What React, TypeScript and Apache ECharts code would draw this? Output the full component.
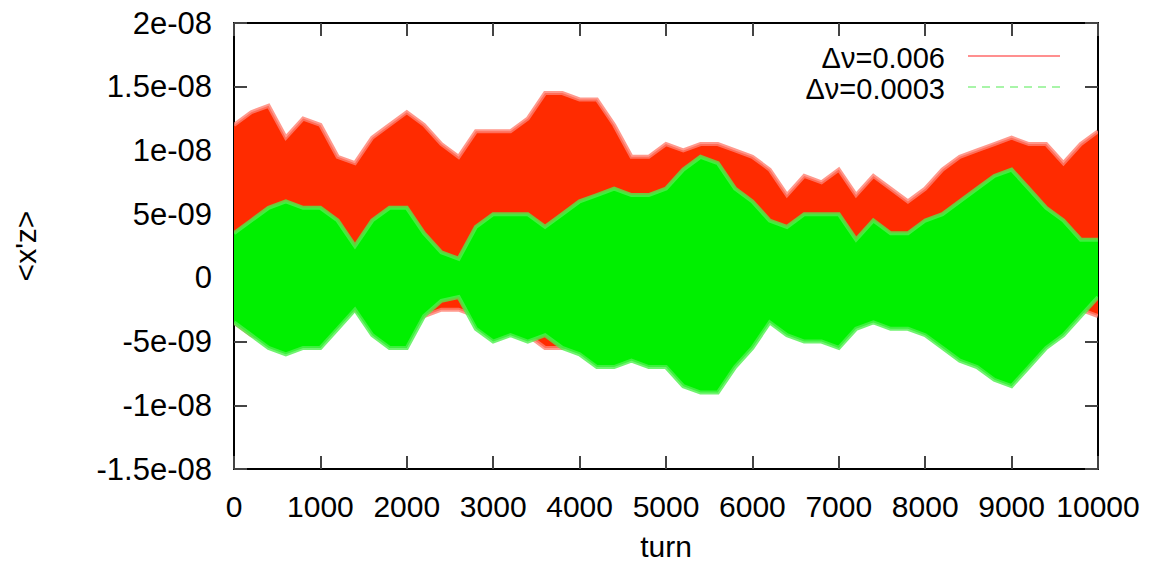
import React, { useEffect, useRef } from "react";
import * as echarts from "echarts";

// turns (x positions of the sampled envelope)
const turns = [
  0, 200, 400, 600, 800, 1000, 1200, 1400, 1600, 1800, 2000, 2200, 2400, 2600, 2800, 3000, 3200, 3400, 3600, 3800,
  4000, 4200, 4400, 4600, 4800, 5000, 5200, 5400, 5600, 5800, 6000, 6200, 6400, 6600, 6800, 7000, 7200, 7400, 7600,
  7800, 8000, 8200, 8400, 8600, 8800, 9000, 9200, 9400, 9600, 9800, 10000,
];

// envelopes of <x'z>, in units of 1e-9
const redUpper = [
  12.0, 13.0, 13.5, 11.0, 12.5, 12.0, 9.5, 9.0, 11.0, 12.0, 13.0, 12.0, 10.5, 9.5, 11.5, 11.5, 11.5, 12.5, 14.5, 14.5,
  14.0, 14.0, 12.0, 9.5, 9.5, 10.5, 10.0, 10.5, 10.5, 10.0, 9.5, 8.5, 6.5, 8.0, 7.5, 8.5, 6.5, 8.0, 7.0,
  6.0, 7.0, 8.5, 9.5, 10.0, 10.5, 11.0, 10.5, 10.5, 9.0, 10.5, 11.5,
];
const redLower = [
  -3.5, -4.5, -5.0, -4.0, -4.0, -3.5, -3.0, -2.5, -3.5, -4.0, -4.0, -3.0, -2.5, -2.5, -3.0, -3.5, -3.5, -4.5, -5.5, -5.5,
  -5.0, -4.0, -3.0, -3.0, -3.0, -3.0, -3.0, -3.0, -3.0, -3.0, -2.5, -2.0, -1.5, -2.0, -2.0, -2.0, -1.5, -1.5, -1.5,
  -1.5, -1.5, -1.5, -1.5, -1.5, -1.5, -1.5, -1.5, -1.5, -2.0, -2.5, -3.0,
];
const greenUpper = [
  3.5, 4.5, 5.5, 6.0, 5.5, 5.5, 4.5, 2.5, 4.5, 5.5, 5.5, 3.5, 2.0, 1.5, 4.0, 5.0, 5.0, 5.0, 4.0, 5.0,
  6.0, 6.5, 7.0, 6.5, 6.5, 7.0, 8.5, 9.5, 9.0, 7.0, 6.0, 4.5, 4.0, 5.0, 5.0, 5.0, 3.0, 4.5, 3.5,
  3.5, 4.5, 5.0, 6.0, 7.0, 8.0, 8.5, 7.0, 5.5, 4.5, 3.0, 3.0,
];
const greenLower = [
  -3.5, -4.5, -5.5, -6.0, -5.5, -5.5, -4.0, -2.5, -4.5, -5.5, -5.5, -3.0, -1.8, -1.5, -4.0, -5.0, -4.5, -5.0, -4.5, -5.5,
  -6.0, -7.0, -7.0, -6.5, -7.0, -7.0, -8.5, -9.0, -9.0, -7.0, -5.5, -3.5, -4.5, -5.0, -5.0, -5.5, -4.0, -3.5, -4.0,
  -4.0, -4.5, -5.5, -6.5, -7.0, -8.0, -8.5, -7.0, -5.5, -4.5, -3.0, -1.5,
];

const yTickLabels = ["-1.5e-08", "-1e-08", "-5e-09", "0", "5e-09", "1e-08", "1.5e-08", "2e-08"];
const seriesNames = ["Δν=0.006", "Δν=0.0003"];

const RED = "#ff2b00";
const GREEN = "#00f000";
const FONT = "Liberation Sans, Arial, Helvetica, sans-serif";

export default function App() {
  const ref = useRef<HTMLDivElement>(null);
  useEffect(() => {
    if (!ref.current) return;
    const chart = echarts.init(ref.current, undefined, { renderer: "svg" });
    const yLabel = (v: number) => {
      const idx = Math.round((v + 15) / 5);
      return yTickLabels[idx] ?? "";
    };
    const makeBand = (name: string, lo: number[], hi: number[], fill: string, edge: string) => ({
      name,
      type: "custom",
      data: turns.map((t, i) => [t, lo[i], hi[i]]),
      encode: { x: 0, y: [1, 2] },
      clip: true,
      renderItem: (params: any, api: any) => {
        if (params.dataIndex !== 0) return null;
        const top = turns.map((t, i) => api.coord([t, hi[i]]));
        const bottom = turns.map((t, i) => api.coord([t, lo[i]]));
        const outline = top.concat(bottom.slice().reverse());
        return {
          type: "group",
          children: [
            { type: "polygon", shape: { points: outline }, style: { fill, stroke: null } },
            { type: "polyline", shape: { points: top }, style: { stroke: edge, lineWidth: 4, fill: null, opacity: 0.8 } },
            { type: "polyline", shape: { points: bottom }, style: { stroke: edge, lineWidth: 4, fill: null, opacity: 0.8 } },
          ],
        };
      },
    });
    const tickStyle = { show: true, inside: true, length: 13, lineStyle: { color: "#444", width: 2 } };
    const lineStyle = { show: true, onZero: false, lineStyle: { color: "#000", width: 2 } };
    const xCommon = { type: "value", min: 0, max: 10000, interval: 1000, axisLine: lineStyle, axisTick: tickStyle, splitLine: { show: false } };
    const yCommon = { type: "value", min: -15, max: 20, interval: 5, axisLine: lineStyle, axisTick: tickStyle, splitLine: { show: false } };
    chart.setOption({
      animation: false,
      backgroundColor: "#fff",
      textStyle: { fontFamily: FONT },
      grid: { left: 234, right: 51, top: 23, bottom: 95, show: false, containLabel: false, outerBoundsMode: "none" },
      xAxis: [
        {
          ...xCommon,
          position: "bottom",
          axisLabel: { show: true, fontSize: 30, color: "#000", margin: 22, fontFamily: FONT, formatter: (v: number) => String(v) },
          name: "turn",
          nameLocation: "middle",
          nameGap: 62,
          nameTextStyle: { fontSize: 30, lineHeight: 30, color: "#000", fontFamily: FONT },
        },
        { ...xCommon, position: "top", axisLabel: { show: false } },
      ],
      yAxis: [
        {
          ...yCommon,
          position: "left",
          axisLabel: { show: true, fontSize: 31, color: "#000", margin: 22, fontFamily: FONT, formatter: yLabel },
          name: "<x'z>",
          nameLocation: "middle",
          nameGap: 194,
          nameRotate: 90,
          nameTextStyle: { fontSize: 30, color: "#000", fontFamily: FONT },
        },
        { ...yCommon, position: "right", axisLabel: { show: false } },
      ],
      series: [
        makeBand(seriesNames[0], redLower, redUpper, RED, "#ff7f70"),
        makeBand(seriesNames[1], greenLower, greenUpper, GREEN, "#4cf04c"),
      ],
      graphic: [
        {
          type: "text",
          right: 1149 - 945,
          top: 43,
          style: { text: seriesNames[0], font: `29px ${FONT}`, fill: "#000", textAlign: "right" },
        },
        {
          type: "line",
          shape: { x1: 968, y1: 56, x2: 1060, y2: 56 },
          style: { stroke: "#ff8f8f", lineWidth: 2 },
        },
        {
          type: "text",
          right: 1149 - 945,
          top: 74,
          style: { text: seriesNames[1], font: `29px ${FONT}`, fill: "#000", textAlign: "right" },
        },
        {
          type: "line",
          shape: { x1: 968, y1: 87, x2: 1060, y2: 87 },
          style: { stroke: "#a8f5a8", lineWidth: 2, lineDash: [8, 6] },
        },
      ],
    });
    return () => chart.dispose();
  }, []);
  return (
    <div
      ref={ref}
      style={{ position: "fixed", left: 0, top: 0, width: 1149, height: 564, background: "#fff" }}
    />
  );
}
